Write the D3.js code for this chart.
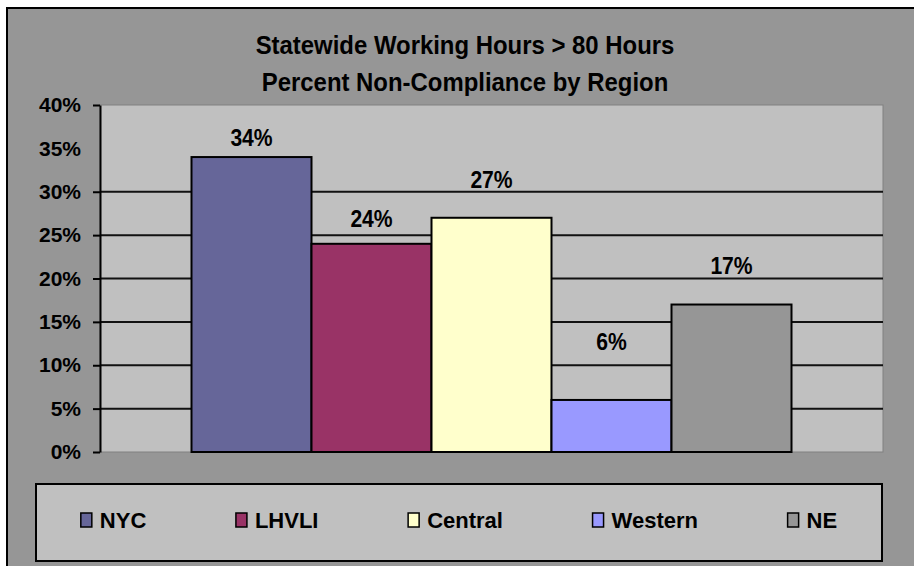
<!DOCTYPE html>
<html>
<head>
<meta charset="utf-8">
<script src="https://cdn.jsdelivr.net/npm/d3@7"></script>
<style>
  body { margin: 0; background: #ffffff; }
  svg { display: block; font-family: "Liberation Sans", Arial, sans-serif; font-weight: bold; }
</style>
</head>
<body>
<svg id="canvas" width="914" height="566"></svg>
<script>
// chart data
const regions = ["NYC", "LHVLI", "Central", "Western", "NE"];
const pctValues = [34, 24, 27, 6, 17];
const barColors = ["#666699", "#993366", "#FFFFCC", "#9999FF", "#969696"];
const yTicks = [0, 5, 10, 15, 20, 25, 30, 35, 40];
const gridValues = [5, 10, 15, 20, 25, 30]; // no line at 35% in the original
const titleLines = ["Statewide Working Hours > 80 Hours", "Percent Non-Compliance by Region"];

// the data labels were hand placed, so each sits a different distance above its bar
const labelLift = [11, 17, 30, 50, 31];

const svg = d3.select('#canvas');

// outer chart frame (right/bottom edges run off the picture)
svg.append('rect')
  .attr('x', 7).attr('y', 8)
  .attr('width', 940).attr('height', 600)
  .attr('fill', '#969696')
  .attr('stroke', '#000').attr('stroke-width', 2);

// title
svg.selectAll('.title')
  .data(titleLines)
  .enter()
  .append('g')
  .attr('transform', (d, i) => `translate(465, ${54 + i * 37})`)
  .append('text')
  .attr('transform', 'scale(0.92,1)')
  .attr('text-anchor', 'middle')
  .attr('font-size', 26)
  .attr('fill', '#000')
  .text(d => d);

const plotL = 100, plotR = 883;
const y = d3.scaleLinear().domain([0, 40]).range([452, 105]);

// one category, five series side by side (gap between category edges and bars)
const x0 = d3.scaleBand().domain(['all']).range([plotL, plotR]).paddingOuter(0.1525);
const x1 = d3.scaleBand().domain(regions).range([0, x0.bandwidth()]);

svg.append('rect')
  .attr('x', plotL).attr('y', y(40))
  .attr('width', plotR - plotL).attr('height', y(0) - y(40))
  .attr('fill', '#c0c0c0')
  .attr('stroke', '#808080').attr('stroke-width', 1);

svg.selectAll('.grid')
  .data(gridValues)
  .enter()
  .append('line')
  .attr('x1', plotL).attr('x2', plotR)
  .attr('y1', d => y(d)).attr('y2', d => y(d))
  .attr('stroke', '#111').attr('stroke-width', 2);

// bars
const barG = svg.append('g').attr('transform', `translate(${x0('all')}, 0)`);
barG.selectAll('rect')
  .data(pctValues)
  .enter()
  .append('rect')
  .attr('x', (d, i) => x1(regions[i]))
  .attr('y', d => y(d))
  .attr('width', x1.bandwidth())
  .attr('height', d => y(0) - y(d))
  .attr('fill', (d, i) => barColors[i])
  .attr('stroke', '#000').attr('stroke-width', 2);

barG.selectAll('.lbl')
  .data(pctValues)
  .enter()
  .append('g')
  .attr('transform', (d, i) => `translate(${x1(regions[i]) + x1.bandwidth() / 2}, ${y(d) - labelLift[i]})`)
  .append('text')
  .attr('transform', 'scale(0.88,1)')
  .attr('text-anchor', 'middle')
  .attr('font-size', 24)
  .attr('fill', '#000')
  .text(d => d + '%');

// y axis
const axis = svg.append('g')
  .attr('transform', `translate(${plotL}, 0)`)
  .call(d3.axisLeft(y)
    .tickValues(yTicks)
    .tickSize(7)
    .tickSizeOuter(0)
    .tickPadding(12)
    .tickFormat(d => d + '%'));
axis.select('.domain').attr('stroke', '#000').attr('stroke-width', 2);
axis.selectAll('.tick line')
  .attr('stroke', '#000').attr('stroke-width', 2)
  .attr('opacity', d => d === 35 ? 0 : 1);
axis.selectAll('.tick text')
  .attr('font-family', '"Liberation Sans", Arial, sans-serif')
  .attr('font-weight', 'bold')
  .attr('font-size', 21)
  .attr('fill', '#000');

// legend
const legX = 36, legY = 484, legW = 846, legH = 77;
svg.append('rect')
  .attr('x', legX).attr('y', legY)
  .attr('width', legW).attr('height', legH)
  .attr('fill', '#c0c0c0')
  .attr('stroke', '#000').attr('stroke-width', 2);

const legItems = svg.selectAll('.leg')
  .data(regions)
  .enter()
  .append('g');

legItems.append('rect')
  .attr('x', 0).attr('y', -15)
  .attr('width', 11).attr('height', 14)
  .attr('fill', (d, i) => barColors[i])
  .attr('stroke', '#000').attr('stroke-width', 1.5);

legItems.append('text')
  .attr('x', 19).attr('y', 0)
  .attr('font-size', 22)
  .attr('fill', '#000')
  .text(d => d);

const widths = [];
legItems.each(function () {
  widths.push(19 + d3.select(this).select('text').node().getComputedTextLength());
});
const gap = (legW - d3.sum(widths)) / regions.length;
let cx = legX + gap / 2;
legItems.attr('transform', (d, i) => {
  const t = `translate(${cx}, 528)`;
  cx += widths[i] + gap;
  return t;
});
</script>
</body>
</html>
